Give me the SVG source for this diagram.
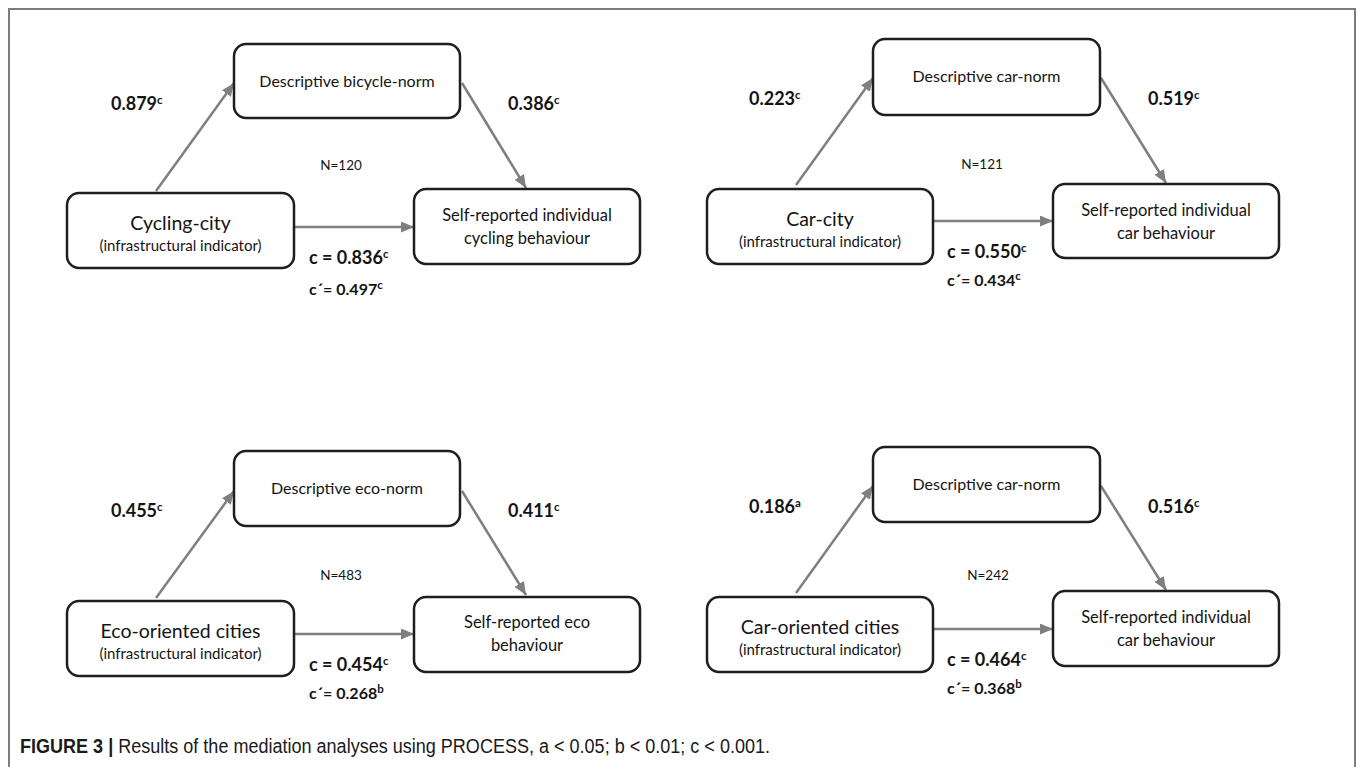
<svg xmlns="http://www.w3.org/2000/svg" width="1357" height="767" viewBox="0 0 1357 767">
<style>
.frame{fill:none;stroke:#7d7d7d;stroke-width:2}
.box{fill:#fff;stroke:#1e1e1e;stroke-width:2.5}
.arr{fill:none;stroke:#7f7f7f;stroke-width:2.5;marker-end:url(#ah)}
.t{font-family:Lato,"Open Sans",sans-serif;fill:#141414}
.m{font-size:16px}
.x1{font-size:19.5px}
.x2{font-size:15px}
.y{font-size:16.5px}
.lbl{font-size:18px;font-weight:bold}
.cp{font-size:16px;font-weight:bold}
.n{font-size:13.5px}
.sup{font-size:11.5px}
.cap{font-family:"Liberation Sans",Arial,sans-serif;font-size:20px;fill:#1a1a1a}
</style>
<defs>
<marker id="ah" markerUnits="userSpaceOnUse" markerWidth="13" markerHeight="11" refX="13" refY="5.5" orient="auto">
<path d="M0,0 L13,5.5 L0,11 Z" fill="#7f7f7f"/>
</marker>
</defs>
<rect width="1357" height="767" fill="#fff"/>
<path class="frame" d="M9,767 V9 H1355 V767"/>

<!-- Panel 1 -->
<g id="panel1">
<g id="connectors1">
<line class="arr" x1="156" y1="191" x2="234" y2="83"/>
<line class="arr" x1="462" y1="83" x2="526" y2="188"/>
<line class="arr" x1="294" y1="227" x2="414" y2="227"/>
</g>
<g id="p1-mediator"><rect class="box" x="234" y="44" width="226" height="74" rx="12"/>
<text class="t m" x="347" y="87" text-anchor="middle">Descriptive bicycle-norm</text></g>
<g id="p1-predictor"><rect class="box" x="67" y="193" width="227" height="75" rx="12"/>
<text class="t x1" x="180.5" y="230" text-anchor="middle">Cycling-city</text>
<text class="t x2" x="180.5" y="251" text-anchor="middle">(infrastructural indicator)</text></g>
<g id="p1-outcome"><rect class="box" x="414" y="189" width="226" height="75" rx="12"/>
<text class="t y" x="527" y="221" text-anchor="middle">Self-reported individual</text>
<text class="t y" x="527" y="244" text-anchor="middle">cycling behaviour</text></g>
<text class="t lbl" x="111" y="110">0.879<tspan class="sup" dy="-6">c</tspan></text>
<text class="t lbl" x="508" y="110">0.386<tspan class="sup" dy="-6">c</tspan></text>
<text class="t n" x="341" y="170" text-anchor="middle">N=120</text>
<text class="t lbl" x="309" y="264">c = 0.836<tspan class="sup" dy="-6">c</tspan></text>
<text class="t cp" x="309" y="295">c´= 0.497<tspan class="sup" dy="-6">c</tspan></text>
</g>

<!-- Panel 2 -->
<g id="panel2" transform="translate(639,-5)">
<g id="connectors2">
<line class="arr" x1="157" y1="190" x2="234" y2="83"/>
<line class="arr" x1="462" y1="83" x2="527" y2="188"/>
<line class="arr" x1="294" y1="226" x2="414" y2="226"/>
</g>
<g id="p2-mediator"><rect class="box" x="234" y="44" width="227" height="76" rx="12"/>
<text class="t m" x="347.5" y="87" text-anchor="middle">Descriptive car-norm</text></g>
<g id="p2-predictor"><rect class="box" x="68" y="194" width="226" height="75" rx="12"/>
<text class="t x1" x="181" y="231" text-anchor="middle">Car-city</text>
<text class="t x2" x="181" y="252" text-anchor="middle">(infrastructural indicator)</text></g>
<g id="p2-outcome"><rect class="box" x="414" y="189" width="226" height="74" rx="12"/>
<text class="t y" x="527" y="221" text-anchor="middle">Self-reported individual</text>
<text class="t y" x="527" y="244" text-anchor="middle">car behaviour</text></g>
<text class="t lbl" x="110" y="110">0.223<tspan class="sup" dy="-6">c</tspan></text>
<text class="t lbl" x="509" y="110">0.519<tspan class="sup" dy="-6">c</tspan></text>
<text class="t n" x="343" y="174" text-anchor="middle">N=121</text>
<text class="t lbl" x="308" y="263">c = 0.550<tspan class="sup" dy="-6">c</tspan></text>
<text class="t cp" x="308" y="291">c´= 0.434<tspan class="sup" dy="-6">c</tspan></text>
</g>

<!-- Panel 3 -->
<g id="panel3" transform="translate(0,407)">
<g id="connectors3">
<line class="arr" x1="156" y1="191" x2="234" y2="84"/>
<line class="arr" x1="462" y1="84" x2="526" y2="188"/>
<line class="arr" x1="294" y1="227" x2="414" y2="227"/>
</g>
<g id="p3-mediator"><rect class="box" x="234" y="44" width="226" height="75" rx="12"/>
<text class="t m" x="347" y="87" text-anchor="middle">Descriptive eco-norm</text></g>
<g id="p3-predictor"><rect class="box" x="67" y="194" width="227" height="75" rx="12"/>
<text class="t x1" x="180.5" y="231" text-anchor="middle">Eco-oriented cities</text>
<text class="t x2" x="180.5" y="252" text-anchor="middle">(infrastructural indicator)</text></g>
<g id="p3-outcome"><rect class="box" x="414" y="190" width="226" height="75" rx="12"/>
<text class="t y" x="527" y="221" text-anchor="middle">Self-reported eco</text>
<text class="t y" x="527" y="244" text-anchor="middle">behaviour</text></g>
<text class="t lbl" x="111" y="110">0.455<tspan class="sup" dy="-6">c</tspan></text>
<text class="t lbl" x="508" y="110">0.411<tspan class="sup" dy="-6">c</tspan></text>
<text class="t n" x="341" y="173" text-anchor="middle">N=483</text>
<text class="t lbl" x="309" y="264">c = 0.454<tspan class="sup" dy="-6">c</tspan></text>
<text class="t cp" x="309" y="292">c´= 0.268<tspan class="sup" dy="-6">b</tspan></text>
</g>

<!-- Panel 4 -->
<g id="panel4" transform="translate(639,403)">
<g id="connectors4">
<line class="arr" x1="157" y1="190" x2="234" y2="83"/>
<line class="arr" x1="462" y1="83" x2="527" y2="187"/>
<line class="arr" x1="294" y1="226" x2="414" y2="226"/>
</g>
<g id="p4-mediator"><rect class="box" x="234" y="44" width="227" height="75" rx="12"/>
<text class="t m" x="347.5" y="87" text-anchor="middle">Descriptive car-norm</text></g>
<g id="p4-predictor"><rect class="box" x="68" y="194" width="226" height="75" rx="12"/>
<text class="t x1" x="181" y="231" text-anchor="middle">Car-oriented cities</text>
<text class="t x2" x="181" y="252" text-anchor="middle">(infrastructural indicator)</text></g>
<g id="p4-outcome"><rect class="box" x="414" y="188" width="226" height="75" rx="12"/>
<text class="t y" x="527" y="220" text-anchor="middle">Self-reported individual</text>
<text class="t y" x="527" y="243" text-anchor="middle">car behaviour</text></g>
<text class="t lbl" x="110" y="110">0.186<tspan class="sup" dy="-6">a</tspan></text>
<text class="t lbl" x="509" y="110">0.516<tspan class="sup" dy="-6">c</tspan></text>
<text class="t n" x="349" y="177" text-anchor="middle">N=242</text>
<text class="t lbl" x="308" y="263">c = 0.464<tspan class="sup" dy="-6">c</tspan></text>
<text class="t cp" x="308" y="291">c´= 0.368<tspan class="sup" dy="-6">b</tspan></text>
</g>

<text class="cap" x="20" y="753" textLength="750" lengthAdjust="spacingAndGlyphs"><tspan font-weight="bold">FIGURE 3 | </tspan>Results of the mediation analyses using PROCESS, a &lt; 0.05; b &lt; 0.01; c &lt; 0.001.</text>
</svg>
